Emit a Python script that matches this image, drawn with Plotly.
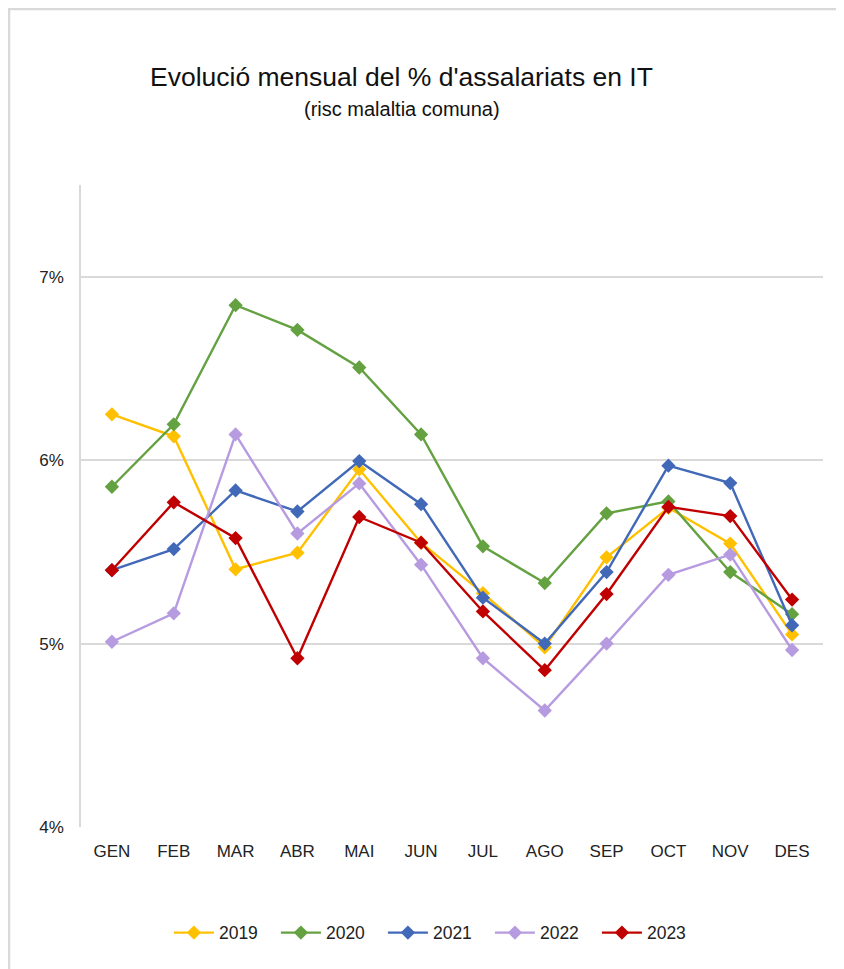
import plotly.graph_objects as go

months = ["GEN", "FEB", "MAR", "ABR", "MAI", "JUN", "JUL", "AGO", "SEP", "OCT", "NOV", "DES"]

y2019 = [6.25, 6.13, 5.405, 5.495, 5.95, 5.55, 5.275, 4.98, 5.47, 5.74, 5.545, 5.05]
y2020 = [5.855, 6.195, 6.845, 6.71, 6.505, 6.14, 5.53, 5.33, 5.71, 5.775, 5.39, 5.16]
y2021 = [5.40, 5.515, 5.835, 5.72, 5.995, 5.76, 5.25, 5.00, 5.39, 5.97, 5.875, 5.10]
y2022 = [5.01, 5.165, 6.14, 5.60, 5.873, 5.43, 4.92, 4.635, 5.00, 5.375, 5.485, 4.965]
y2023 = [5.40, 5.77, 5.575, 4.92, 5.69, 5.55, 5.175, 4.855, 5.27, 5.745, 5.695, 5.24]

series = [
    ("2019", y2019, "#FFC000"),
    ("2020", y2020, "#64A141"),
    ("2021", y2021, "#4169B8"),
    ("2022", y2022, "#B79BE0"),
    ("2023", y2023, "#C00000"),
]

yticks = [4, 5, 6, 7]
ytick_text = ["4%", "5%", "6%", "7%"]

FONT = "Liberation Sans, Arial, sans-serif"

fig = go.Figure()
for name, vals, col in series:
    fig.add_trace(go.Scatter(
        x=months, y=vals, name=name, mode="lines+markers",
        line=dict(color=col, width=2.4),
        marker=dict(symbol="diamond", size=11, color=col),
    ))

fig.update_layout(
    width=844, height=969,
    paper_bgcolor="white", plot_bgcolor="white",
    margin=dict(l=73, r=29, t=177, b=150),
    font=dict(family=FONT, size=17, color="#222222"),
    showlegend=True,
    legend=dict(orientation="h", x=0.479, xanchor="center", y=-0.1647, yanchor="middle",
                font=dict(size=17.5, color="#222222"), itemwidth=40, entrywidth=52,
                traceorder="normal"),
    xaxis=dict(type="category", range=[-0.5, 11.5], showgrid=False, showline=False,
               ticks="", ticklabelstandoff=12, tickfont=dict(size=17), zeroline=False),
    yaxis=dict(range=[4, 7.5], tickvals=yticks, ticktext=ytick_text, showgrid=True,
               gridcolor="#D9D9D9", gridwidth=2, showline=True, linecolor="#D9D9D9",
               linewidth=1.5, zeroline=False, ticks="", ticklabelstandoff=12,
               tickfont=dict(size=17)),
    annotations=[
        dict(text="Evolució mensual del % d'assalariats en IT", xref="paper", yref="paper",
             x=0.4326, y=1.169, xanchor="center", yanchor="middle", showarrow=False,
             font=dict(size=26.5, family=FONT, color="#111111")),
        dict(text="(risc malaltia comuna)", xref="paper", yref="paper",
             x=0.4326, y=1.1177, xanchor="center", yanchor="middle", showarrow=False,
             font=dict(size=20, family=FONT, color="#111111")),
    ],
    shapes=[
        dict(type="rect", xref="paper", yref="paper", x0=-0.097, x1=1.1, y0=-0.3, y1=1.274,
             line=dict(color="#D9D9D9", width=2.5), fillcolor="rgba(0,0,0,0)", layer="below"),
    ],
)

fig.write_html("out.html")
